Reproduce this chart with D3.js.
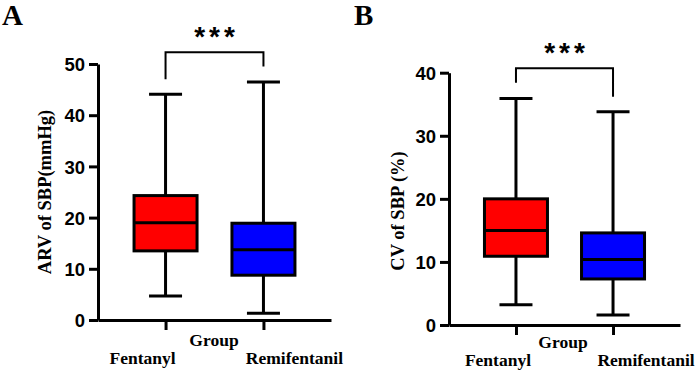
<!DOCTYPE html>
<html>
<head>
<meta charset="utf-8">
<script src="https://cdn.jsdelivr.net/npm/d3@7"></script>
<style>
  html, body { margin: 0; padding: 0; background: #fff; }
  svg { display: block; }
  .tick text { font-family: Arial, "Liberation Sans", sans-serif; font-weight: 700; }
  .serif { font-family: "Times New Roman", "Liberation Serif", serif; font-weight: 700; }
</style>
</head>
<body>
<svg id="chart" width="699" height="372"></svg>
<script>
const groups = ["Fentanyl", "Remifentanil"];
const boxColors = ["#ff0000", "#0000ff"];

// panel A: ARV of SBP (mmHg)
const arvMin = [4.7, 1.3];
const arvQ1 = [13.5, 8.75];
const arvMedian = [19.0, 13.7];
const arvQ3 = [24.3, 18.9];
const arvMax = [44.1, 46.5];
const arvTicks = [0, 10, 20, 30, 40, 50];

// panel B: CV of SBP (%)
const cvMin = [3.2, 1.6];
const cvQ1 = [10.9, 7.3];
const cvMedian = [15.0, 10.4];
const cvQ3 = [20.0, 14.6];
const cvMax = [35.9, 33.8];
const cvTicks = [0, 10, 20, 30, 40];

const svg = d3.select("#chart");

const panels = [
  {
    letter: "A", letterX: 2,
    title: "ARV of SBP(mmHg)", titleX: 51, titleY: 192,
    left: 98, right: 331, top: 64, bottom: 320, max: 50, ticks: arvTicks,
    min: arvMin, q1: arvQ1, median: arvMedian, q3: arvQ3, maxv: arvMax,
    bracket: { top: 52.3, leftEnd: 47.0, rightEnd: 49.5 },
    groupX: 214, groupY: 346, labelY: 364, labelDx: [-23, 31]
  },
  {
    letter: "B", letterX: 354,
    title: "CV of SBP (%)", titleX: 404, titleY: 211,
    left: 449, right: 680, top: 72.7, bottom: 325, max: 40, ticks: cvTicks,
    min: cvMin, q1: cvQ1, median: cvMedian, q3: cvQ3, maxv: cvMax,
    bracket: { top: 40.7, leftEnd: 38.4, rightEnd: 36.2 },
    groupX: 563, groupY: 348, labelY: 366, labelDx: [-18, 33]
  }
];

panels.forEach(drawPanel);

function drawPanel(p) {
  const g = svg.append("g");

  const y = d3.scaleLinear().domain([0, p.max]).range([p.bottom, p.top]);
  const x = d3.scalePoint().domain(groups).range([p.left, p.right]).padding(0.69);

  // y axis
  const yAxis = g.append("g")
    .attr("transform", `translate(${p.left},0)`)
    .call(d3.axisLeft(y).tickValues(p.ticks).tickSize(9).tickSizeOuter(0).tickPadding(4));
  yAxis.select(".domain").attr("stroke", "#000").attr("stroke-width", 3);
  yAxis.selectAll(".tick line").attr("stroke", "#000").attr("stroke-width", 3);
  yAxis.selectAll(".tick text").attr("font-size", 18.5).attr("fill", "#000").attr("dy", "0.36em");

  // x axis
  const xAxis = g.append("g")
    .attr("transform", `translate(0,${p.bottom})`)
    .call(d3.axisBottom(x).tickSize(10).tickSizeOuter(0).tickFormat(""));
  xAxis.select(".domain").attr("stroke", "#000").attr("stroke-width", 3);
  xAxis.selectAll(".tick line").attr("stroke", "#000").attr("stroke-width", 3);

  const boxW = 63;
  const capW = 33;
  const idx = d3.range(groups.length);

  // whiskers
  g.selectAll(".whisker").data(idx).join("line")
    .attr("x1", (i) => x(groups[i])).attr("x2", (i) => x(groups[i]))
    .attr("y1", (i) => y(p.maxv[i])).attr("y2", (i) => y(p.min[i]))
    .attr("stroke", "#000").attr("stroke-width", 3);

  // caps
  ["maxv", "min"].forEach((key) => {
    g.selectAll(".cap-" + key).data(idx).join("line")
      .attr("x1", (i) => x(groups[i]) - capW / 2).attr("x2", (i) => x(groups[i]) + capW / 2)
      .attr("y1", (i) => y(p[key][i])).attr("y2", (i) => y(p[key][i]))
      .attr("stroke", "#000").attr("stroke-width", 3);
  });

  // boxes
  g.selectAll(".box").data(idx).join("rect")
    .attr("x", (i) => x(groups[i]) - boxW / 2)
    .attr("width", boxW)
    .attr("y", (i) => y(p.q3[i]))
    .attr("height", (i) => y(p.q1[i]) - y(p.q3[i]))
    .attr("fill", (i) => boxColors[i])
    .attr("stroke", "#000").attr("stroke-width", 3);

  // medians
  g.selectAll(".median").data(idx).join("line")
    .attr("x1", (i) => x(groups[i]) - boxW / 2).attr("x2", (i) => x(groups[i]) + boxW / 2)
    .attr("y1", (i) => y(p.median[i])).attr("y2", (i) => y(p.median[i]))
    .attr("stroke", "#000").attr("stroke-width", 3);

  // significance bracket
  const x0 = x(groups[0]);
  const x1 = x(groups[1]);
  const b = p.bracket;
  g.append("path")
    .attr("d", `M${x0},${y(b.leftEnd)}V${y(b.top)}H${x1}V${y(b.rightEnd)}`)
    .attr("fill", "none").attr("stroke", "#000").attr("stroke-width", 2);
  g.append("text")
    .attr("x", (x0 + x1) / 2 + 2)
    .attr("y", y(b.top) - 6)
    .attr("text-anchor", "middle")
    .attr("font-family", "Arial, 'Liberation Sans', sans-serif")
    .attr("font-weight", 700)
    .attr("font-size", 28)
    .attr("letter-spacing", 4)
    .text("***");

  // panel letter
  g.append("text").attr("class", "serif")
    .attr("x", p.letterX).attr("y", 25)
    .attr("font-size", 29)
    .text(p.letter);

  // y title
  g.append("text").attr("class", "serif")
    .attr("transform", `translate(${p.titleX},${p.titleY}) rotate(-90)`)
    .attr("text-anchor", "middle")
    .attr("font-size", 18.5)
    .text(p.title);

  // x title and category labels
  g.append("text").attr("class", "serif")
    .attr("x", p.groupX).attr("y", p.groupY)
    .attr("text-anchor", "middle")
    .attr("font-size", 17.5)
    .text("Group");

  g.selectAll(".cat").data(idx).join("text")
    .attr("class", "serif")
    .attr("x", (i) => x(groups[i]) + p.labelDx[i])
    .attr("y", p.labelY)
    .attr("text-anchor", "middle")
    .attr("font-size", 17.5)
    .text((i) => groups[i]);
}
</script>
</body>
</html>
